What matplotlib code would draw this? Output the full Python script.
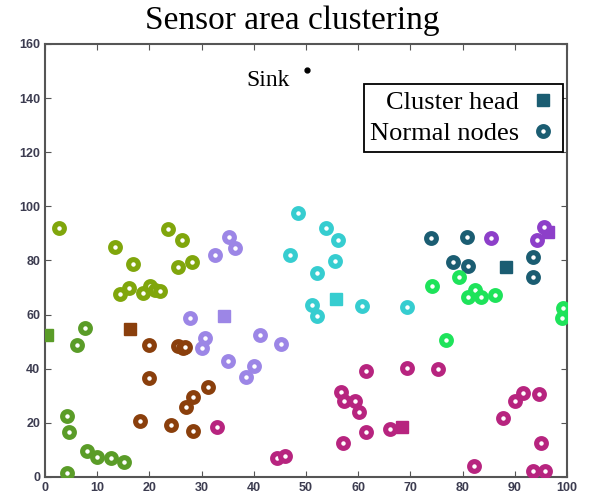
import matplotlib.pyplot as plt
from matplotlib.lines import Line2D

# nodes of each cluster (normal nodes)
clusters = ['olive', 'green', 'brown', 'lavender', 'cyan', 'teal', 'purple', 'lime', 'magenta']

node_x = {
    'olive':    [2.7, 13.5, 16.8, 23.5, 26.2, 25.5, 28.2, 14.4, 16.0, 18.8, 20.1, 21.1, 22.0],
    'green':    [7.7, 6.2, 4.3, 4.5, 4.2, 8.1, 9.9, 12.6, 15.1],
    'brown':    [19.9, 25.5, 26.5, 26.8, 19.9, 18.2, 24.1, 28.4, 28.3, 27.1, 31.3],
    'lavender': [35.3, 36.4, 32.6, 27.8, 30.6, 30.0, 35.1, 40.0, 38.6, 41.1, 45.3],
    'cyan':     [48.5, 53.8, 56.2, 46.9, 55.6, 52.2, 51.1, 52.2, 60.7, 69.3],
    'teal':     [73.9, 80.8, 78.2, 81.1, 93.5, 93.4],
    'purple':   [85.4, 94.2, 95.6],
    'lime':     [74.1, 79.3, 81.1, 82.4, 83.5, 86.2, 99.3, 99.0, 76.8],
    'magenta':  [32.9, 44.4, 46.0, 56.8, 57.3, 59.4, 60.2, 61.5, 61.4, 57.0, 69.3, 75.2,
                 66.1, 82.2, 87.7, 90.0, 91.6, 94.6, 95.0, 93.4, 95.7],
}
node_y = {
    'olive':    [92.1, 85.1, 78.6, 91.6, 87.6, 77.7, 79.6, 67.5, 69.7, 67.9, 70.6, 69.1, 68.7],
    'green':    [55.2, 48.8, 22.5, 16.8, 1.5, 9.6, 7.5, 7.1, 5.7],
    'brown':    [48.8, 48.4, 47.8, 48.2, 36.7, 20.7, 19.2, 17.0, 29.7, 25.7, 33.4],
    'lavender': [88.6, 84.5, 82.0, 58.9, 51.5, 47.6, 42.9, 41.0, 37.1, 52.5, 49.2],
    'cyan':     [97.4, 91.9, 87.6, 82.0, 79.8, 75.3, 63.6, 59.5, 63.2, 62.9],
    'teal':     [88.4, 88.8, 79.6, 78.0, 81.4, 73.8],
    'purple':   [88.4, 87.6, 92.3],
    'lime':     [70.6, 74.0, 66.6, 69.1, 66.4, 67.3, 62.3, 58.9, 50.6],
    'magenta':  [18.6, 6.9, 7.8, 31.5, 28.1, 28.1, 24.1, 39.2, 16.5, 12.4, 40.4, 39.9,
                 17.7, 4.2, 21.7, 28.1, 31.2, 30.6, 12.7, 2.2, 2.2],
}

# cluster heads (visible squares)
head_x = {'green': 0.3, 'brown': 16.2, 'lavender': 34.3, 'cyan': 55.7,
          'teal': 88.3, 'purple': 96.4, 'magenta': 68.3}
head_y = {'green': 52.5, 'brown': 54.7, 'lavender': 59.6, 'cyan': 65.8,
          'teal': 77.5, 'purple': 90.7, 'magenta': 18.4}

sink_x, sink_y = 50.2, 150.4

colors = {
    'olive': '#80a60c', 'green': '#5a9c28', 'brown': '#8a3f0c', 'lavender': '#9c86e6',
    'cyan': '#36cdd0', 'teal': '#1b5d72', 'purple': '#8d3fc9', 'lime': '#1ee35a',
    'magenta': '#b7247f',
}

fig = plt.figure(figsize=(5.9, 5.04), dpi=100)
ax = fig.add_axes([0.0763, 0.0536, 0.8847, 0.8591])

for c in clusters:
    col = colors[c]
    if c in head_x:
        ax.plot(head_x[c], head_y[c], 's', ms=8, color=col, mec=col, zorder=3)
    ax.plot(node_x[c], node_y[c], 'o', ls='none', ms=7, mfc='white', mec=col, mew=3.7, zorder=3)

ax.plot(sink_x, sink_y, 'o', color='black', ms=3.5)
ax.text(46.9, 146.5, 'Sink', ha='right', va='center', family='Liberation Serif', fontsize=17)

ax.set_xlim(0, 100)
ax.set_ylim(0, 160)
ax.set_xticks(range(0, 101, 10))
ax.set_yticks(range(0, 161, 20))
ax.tick_params(direction='in', top=True, right=True, length=4, color='#555555',
               labelsize=9, labelcolor='#3c3c50')
for lab in ax.get_xticklabels() + ax.get_yticklabels():
    lab.set_fontweight('bold')
    lab.set_family('Liberation Sans')
for sp in ax.spines.values():
    sp.set_color('#555555')
    sp.set_linewidth(1.5)

fig.text(0.495, 0.958, 'Sensor area clustering', ha='center', va='center',
         family='Liberation Serif', fontsize=24)

handles = [
    Line2D([], [], marker='s', ls='none', ms=8, color=colors['teal']),
    Line2D([], [], marker='o', ls='none', ms=7, mfc='white', mec=colors['teal'], mew=3.7),
]
leg = ax.legend(handles, ['Cluster head', 'Normal nodes'], loc='upper right',
                bbox_to_anchor=(0.992, 0.9076), markerfirst=False, fancybox=False,
                framealpha=1, borderaxespad=0, handletextpad=0.4, handlelength=1.0,
                prop={'family': 'Liberation Serif', 'size': 19}, borderpad=0.25,
                labelspacing=0.3)
leg.get_frame().set_edgecolor('black')
leg.get_frame().set_linewidth(1.3)

fig.savefig('out.png', dpi=100)
